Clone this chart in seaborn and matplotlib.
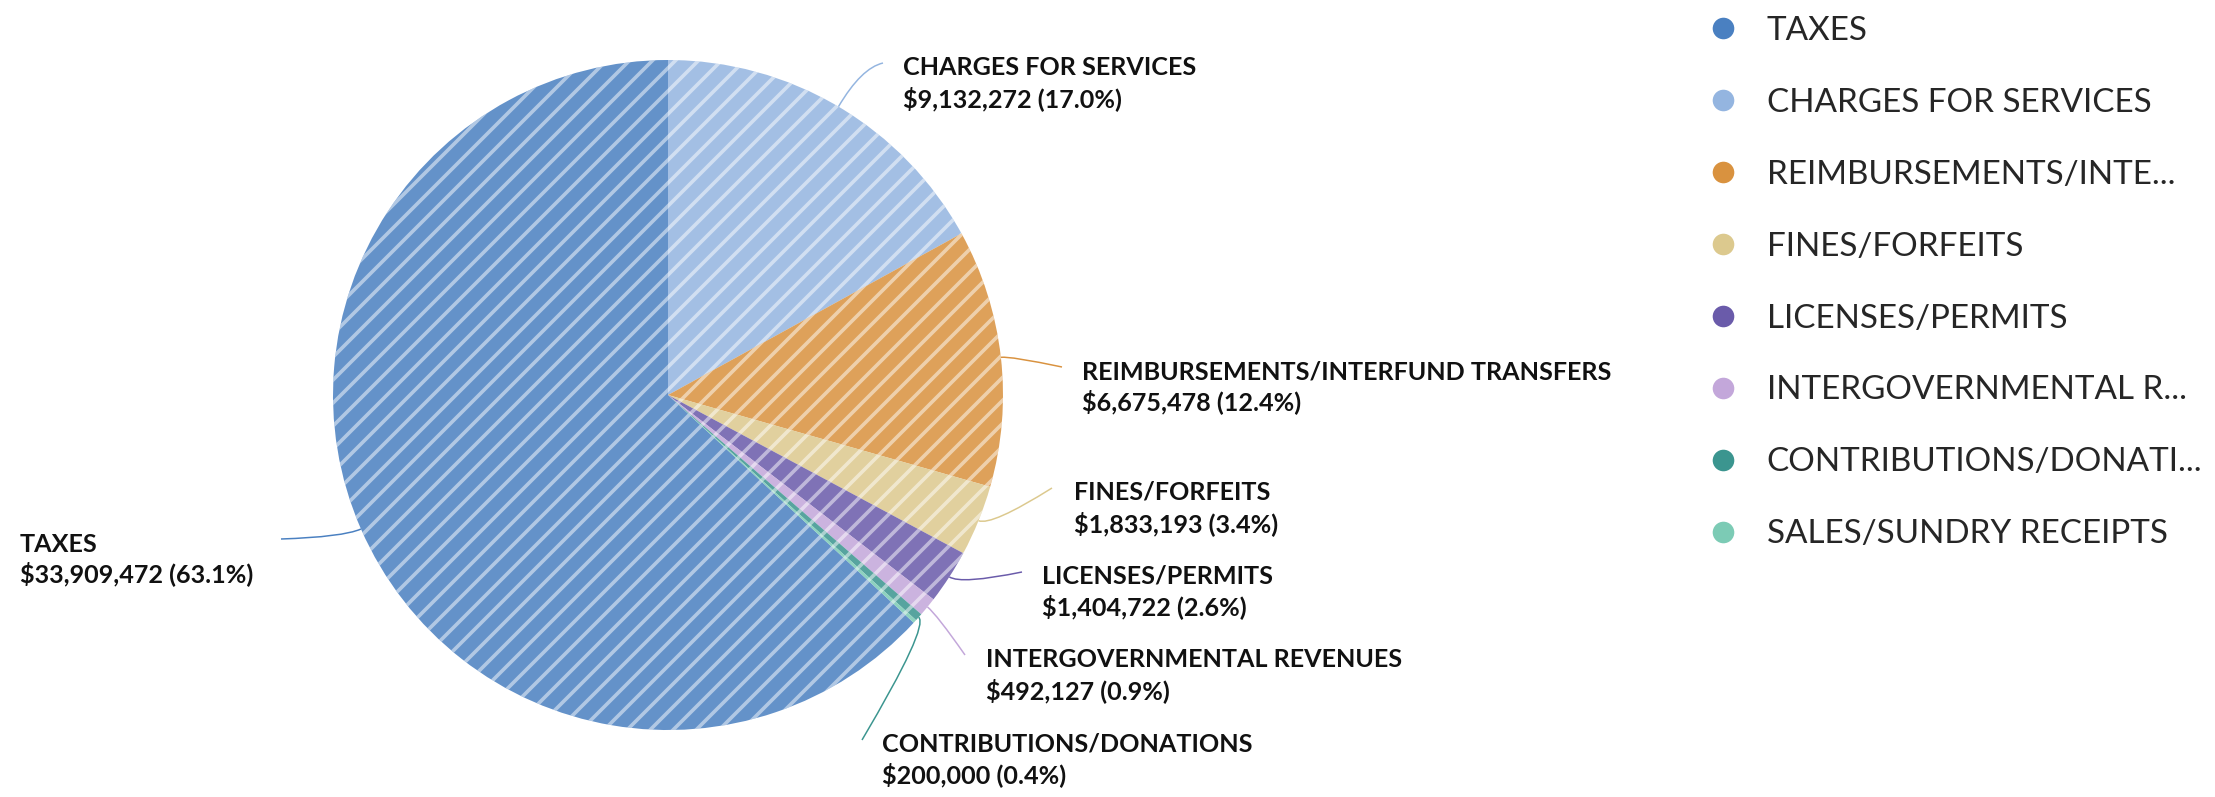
import numpy as np
import matplotlib
matplotlib.use("Agg")
import matplotlib.pyplot as plt
from matplotlib.lines import Line2D
from matplotlib.path import Path
from matplotlib.patches import PathPatch
import matplotlib.colors as mcolors
import seaborn as sns

# ---- data -------------------------------------------------------------
categories = [
    "TAXES",
    "CHARGES FOR SERVICES",
    "REIMBURSEMENTS/INTERFUND TRANSFERS",
    "FINES/FORFEITS",
    "LICENSES/PERMITS",
    "INTERGOVERNMENTAL REVENUES",
    "CONTRIBUTIONS/DONATIONS",
    "SALES/SUNDRY RECEIPTS",
]
amounts = [33909472, 9132272, 6675478, 1833193, 1404722, 492127, 200000, 90000]
legend_labels = [
    "TAXES",
    "CHARGES FOR SERVICES",
    "REIMBURSEMENTS/INTE...",
    "FINES/FORFEITS",
    "LICENSES/PERMITS",
    "INTERGOVERNMENTAL R...",
    "CONTRIBUTIONS/DONATI...",
    "SALES/SUNDRY RECEIPTS",
]
show_label = [True, True, True, True, True, True, True, False]
colors = ["#4a80c1", "#94b5e0", "#d9923f", "#dcc98e",
          "#6a5baa", "#c3a7da", "#3b958f", "#7ccbb5"]

# ---- layout (pixel units, y measured from top) -------------------------
W, H, DPI = 2215, 797, 69
PX = 72.0 / DPI          # points per pixel
CX, CY, R = 668, 395, 335
# text x, first baseline, second baseline, connector end x, end y, elbow reach
label_layout = {
    "TAXES": (20, 552, 582, 281, 539, 20),
    "CHARGES FOR SERVICES": (903, 75, 107, 883, 63, 45),
    "REIMBURSEMENTS/INTERFUND TRANSFERS": (1082, 379, 410, 1062, 367, 10),
    "FINES/FORFEITS": (1074, 499, 532, 1052, 488, 14),
    "LICENSES/PERMITS": (1042, 583, 615, 1022, 572, 14),
    "INTERGOVERNMENTAL REVENUES": (986, 667, 699, 965, 655, 12),
    "CONTRIBUTIONS/DONATIONS": (882, 751, 783, 862, 740, 14),
}


def py(y):
    return H - y


sns.set_theme(style="white")
plt.rcParams["font.family"] = ["Lato", "DejaVu Sans"]
plt.rcParams["hatch.linewidth"] = 3.6 * PX

palette = sns.color_palette(colors)
face = [mcolors.to_rgba(c, 0.86) for c in palette]

fig = plt.figure(figsize=(W / DPI, H / DPI), dpi=DPI)
fig.patch.set_facecolor("white")
ax = fig.add_axes([0, 0, 1, 1])

total = sum(amounts)
taxes_frac = amounts[0] / total

wedges, _ = ax.pie(
    amounts,
    colors=face,
    startangle=90 + 360 * taxes_frac,
    counterclock=False,
    radius=R,
    center=(CX, py(CY)),
    hatch="/",
    wedgeprops=dict(linewidth=0, edgecolor=(1, 1, 1, 0.5)),
)

ax.set_xlim(0, W)
ax.set_ylim(0, H)
ax.set_aspect("auto")
ax.axis("off")

# ---- data labels with connectors ---------------------------------------
label_size = 25.1 * PX
for w, name, amt, col, show in zip(wedges, categories, amounts, palette, show_label):
    if not show:
        continue
    tx, b1, b2, ex, ey, reach = label_layout[name]
    mid = np.deg2rad((w.theta1 + w.theta2) / 2)
    cx, cy = w.center
    p0 = (cx + R * np.cos(mid), cy + R * np.sin(mid))
    p1 = (cx + (R + reach) * np.cos(mid), cy + (R + reach) * np.sin(mid))
    p2 = (ex, py(ey))
    path = Path([p0, p1, p2], [Path.MOVETO, Path.CURVE3, Path.CURVE3])
    ax.add_patch(PathPatch(path, facecolor="none", edgecolor=col, lw=1.5 * PX))

    pct = 100 * amt / total
    ax.text(tx, py(b1), name, ha="left", va="baseline", fontsize=label_size,
            fontweight="bold", color="#111111")
    ax.text(tx, py(b2), f"${amt:,.0f} ({pct:.1f}%)", ha="left", va="baseline",
            fontsize=label_size, fontweight="bold", color="#111111")

# ---- legend -------------------------------------------------------------
handles = [Line2D([], [], marker="o", linestyle="", markersize=21.6 * PX,
                  markerfacecolor=c, markeredgewidth=0) for c in palette]
leg = ax.legend(
    handles, legend_labels,
    loc="upper left",
    bbox_to_anchor=(1706, py(16)),
    bbox_transform=ax.transData,
    frameon=False,
    handlelength=1.0,
    handletextpad=0.82,
    labelspacing=1.26,
    borderpad=0,
    borderaxespad=0,
    prop=dict(family=["Lato", "DejaVu Sans"], size=33.25 * PX, weight="normal"),
)
for t in leg.get_texts():
    t.set_color("#262626")

fig.savefig("out.png", dpi=DPI, facecolor="white")
